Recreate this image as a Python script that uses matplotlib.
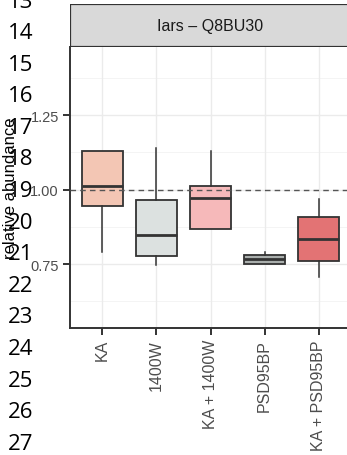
import matplotlib
matplotlib.use("Agg")
import matplotlib.pyplot as plt
from matplotlib.patches import Rectangle

plt.rcParams['font.family'] = ['Liberation Sans', 'DejaVu Sans']

groups = ['KA', '1400W', 'KA + 1400W', 'PSD95BP', 'KA + PSD95BP']
whislo = [0.792, 0.747, 0.869, 0.752, 0.706]
q1 = [0.946, 0.778, 0.869, 0.752, 0.760]
med = [1.012, 0.848, 0.972, 0.767, 0.835]
q3 = [1.131, 0.966, 1.013, 0.780, 0.909]
whishi = [1.131, 1.140, 1.130, 0.792, 0.969]
fills = ['#F3C6B4', '#DCE1E0', '#F6B9BA', '#A9AEAC', '#E37374']
line_numbers = list(range(13, 28))
yticks = [0.75, 1.00, 1.25]

W, H = 347, 456
fig = plt.figure(figsize=(W / 100, H / 100), dpi=100)

# panel
ax = fig.add_axes([70 / W, (H - 329) / H, 281 / W, 281 / H])
ax.set_xlim(0.4, 5.6)
ax.set_ylim(0.536, 1.479)
for y in [0.625, 0.875, 1.125, 1.375]:
    ax.axhline(y, color='#F2F2F2', lw=0.6, zorder=0)
for y in yticks:
    ax.axhline(y, color='#EBEBEB', lw=1.0, zorder=0)
for x in range(1, 6):
    ax.axvline(x, color='#EBEBEB', lw=1.0, zorder=0)

stats = []
for i, g in enumerate(groups):
    stats.append(dict(label=g, whislo=whislo[i], q1=q1[i], med=med[i],
                      q3=q3[i], whishi=whishi[i], fliers=[]))
bp = ax.bxp(stats, positions=range(1, 6), widths=0.75, patch_artist=True,
            showcaps=False,
            boxprops=dict(edgecolor='#333333', lw=1.3),
            whiskerprops=dict(color='#333333', lw=1.1),
            medianprops=dict(color='#333333', lw=2.0))
for patch, c in zip(bp['boxes'], fills):
    patch.set_facecolor(c)
    patch.set_zorder(2)

ax.axhline(1.0, color='#555555', lw=1.0, ls=(0, (4, 3)), zorder=3)

for s in ['top', 'right']:
    ax.spines[s].set_visible(False)
for s in ['left', 'bottom']:
    ax.spines[s].set_linewidth(1.4)
    ax.spines[s].set_color('#333333')

ax.set_yticks(yticks)
ax.set_yticklabels(['0.75', '1.00', '1.25'], fontsize=10.5, color='#4D4D4D')
ax.set_xticks(range(1, 6))
ax.set_xticklabels(groups, rotation=90, fontsize=11.5, color='#4D4D4D', va='top')
ax.tick_params(length=5, width=1.4, color='#333333', pad=3)
ax.set_ylabel('relative abundance', fontsize=12, color='black')
ax.yaxis.set_label_coords(-0.185, 0.5)

# facet strip
sax = fig.add_axes([70 / W, (H - 48) / H, 281 / W, 43 / H])
sax.set_xlim(0, 1)
sax.set_ylim(0, 1)
sax.add_patch(Rectangle((0, 0), 1, 1, facecolor='#D9D9D9', edgecolor='#333333',
                        lw=1.6, transform=sax.transAxes))
sax.text(0.5, 0.5, 'Iars – Q8BU30', ha='center', va='center', fontsize=11.5,
         color='#1A1A1A')
sax.axis('off')

# overlaid line numbers
for k, n in enumerate(line_numbers):
    fig.text(8 / W, 1 - (2 + 31.6 * k) / H, str(n), ha='left', va='center',
             fontsize=16, color='black', family=['Open Sans', 'DejaVu Sans'])

fig.savefig('out.png', dpi=100)
